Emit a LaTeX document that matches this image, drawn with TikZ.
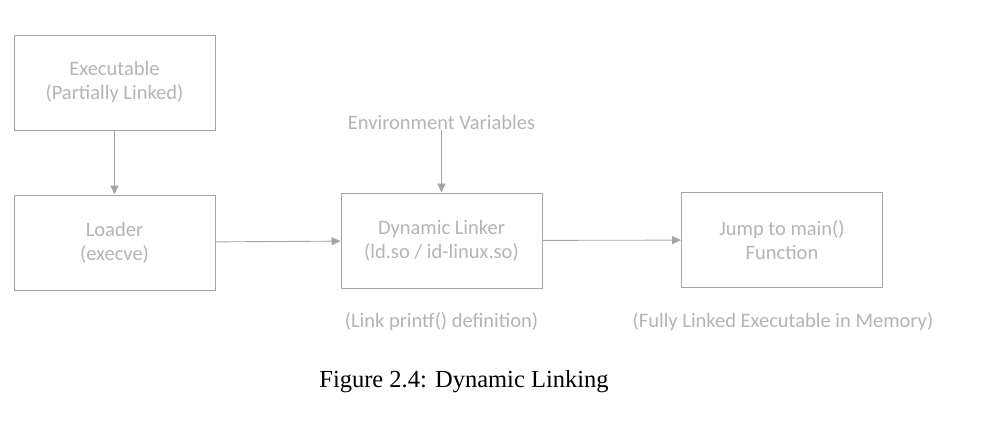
\documentclass[tikz,border=0pt]{standalone}
\usepackage{fontspec}
\setmainfont{Carlito}
\newfontfamily\capfont{Liberation Serif}
\usetikzlibrary{arrows.meta}
\definecolor{linegray}{RGB}{165,165,165}
\definecolor{textgray}{RGB}{180,180,180}
\begin{document}
\begin{tikzpicture}[x=1pt,y=-1pt,
  stepbox/.style={draw=linegray,line width=0.9pt,minimum width=201pt,minimum height=95pt,inner sep=0pt,
    align=center,text=textgray,font=\fontsize{20.5}{24}\selectfont},
  lbl/.style={text=textgray,font=\fontsize{20.5}{24}\selectfont,inner sep=1pt},
  conn/.style={draw=linegray,line width=0.9pt,-{Triangle[length=9pt,width=8pt]}}]
\useasboundingbox (0,0) rectangle (999,425);
\node[stepbox] (exe) at (114.5,82.5) {Executable\\(Partially Linked)};
\node[stepbox] (ldr) at (114.5,242.5) {Loader\\(execve)};
\node[stepbox] (dyn) at (441.5,240.5) {Dynamic Linker\\(ld.so / id-linux.so)};
\node[stepbox] (jmp) at (782,240) {Jump to main()\\Function};
\node[lbl] (env) at (441.5,122) {Environment Variables};
\node[lbl] (lp) at (441.5,322) {(Link printf() definition)};
\node[lbl] (fl) at (783,322) {(Fully Linked Executable in Memory)};
\node[font=\capfont\fontsize{24.5}{28}\selectfont,inner sep=0pt] (cap) at (464,382) {Figure 2.4: Dynamic Linking};
\draw[conn] (exe) -- (ldr);
\draw[conn] (ldr) -- (dyn);
\draw[conn] (dyn) -- (jmp);
\draw[conn] (env) -- (dyn);
\end{tikzpicture}
\end{document}
